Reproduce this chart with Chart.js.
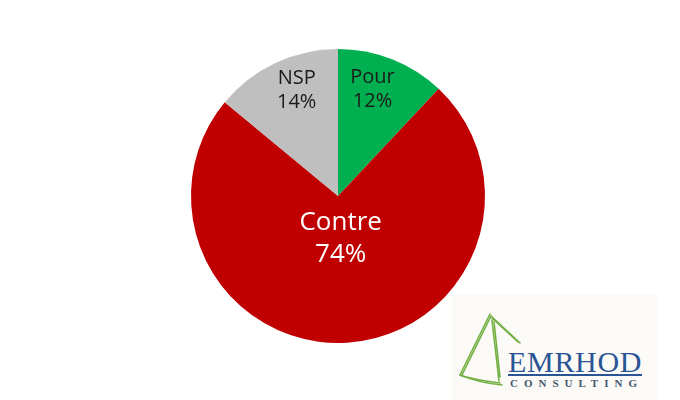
<!DOCTYPE html>
<html>
<head>
<meta charset="utf-8">
<script src="https://cdn.jsdelivr.net/npm/chart.js@4"></script>
<style>
    html, body { margin: 0; padding: 0; background: #ffffff; }
    #wrap { position: relative; width: 680px; height: 400px; }
    #logo { position: absolute; left: 452px; top: 295px; width: 205px; height: 105px; background: #fbfaf7; }
    #logo svg { position: absolute; left: 0; top: 0; }
    #logo .name { position: absolute; left: 56px; top: 52px; font-family: "Liberation Serif", "DejaVu Serif", serif; font-size: 30px; color: #2a5595; letter-spacing: 0.7px; line-height: 30px; white-space: nowrap; }
    #logo .rule { position: absolute; left: 56px; top: 79px; width: 134px; height: 2px; background: #2a5595; }
    #logo .sub { position: absolute; left: 58px; top: 83px; font-family: "Liberation Serif", "DejaVu Serif", serif; font-weight: bold; font-size: 11px; color: #46566e; letter-spacing: 6px; line-height: 11px; white-space: nowrap; }
</style>
</head>
<body>
<div id="wrap">
    <canvas id="pie" width="680" height="400"></canvas>
    <div id="logo">
        <svg width="205" height="105">
            <g fill="none" stroke="#74b043" stroke-width="1.6" stroke-linecap="round">
                <path d="M38 19 L8 80"/>
                <path d="M39 21 L10 80"/>
                <path d="M39 21 L68 48"/>
                <path d="M40 23 L66 47"/>
                <path d="M40 25 L47 86"/>
                <path d="M42 27 L48 82"/>
                <path d="M8 80 Q28 88 50 90"/>
                <path d="M10 81 Q30 86 48 88"/>
            </g>
        </svg>
        <div class="name">EMRHOD</div>
        <div class="rule"></div>
        <div class="sub">CONSULTING</div>
    </div>
</div>
<script>
    // Values
    const labels = ['Pour', 'Contre', 'NSP'];
    const values = [12, 74, 14];
    const colors = ['#00b050', '#c00000', '#bfbfbf'];
    const labelColors = ['#1a1a1a', '#ffffff', '#1a1a1a'];
    const labelSizes = [20, 26, 20];
    const labelRadius = [0.76, 0.29, 0.77];
    const labelTurn = [-3.6, 0, 3.8]; // degrees, nudges label toward the vertical

    // Draw "name / value%" inside each slice
    const sliceLabels = {
        id: 'sliceLabels',
        afterDatasetsDraw(chart) {
            const ctx = chart.ctx;
            const meta = chart.getDatasetMeta(0);
            meta.data.forEach(function (arc, i) {
                const p = arc.getProps(['x', 'y', 'startAngle', 'endAngle', 'outerRadius'], true);
                const mid = (p.startAngle + p.endAngle) / 2 + labelTurn[i] * Math.PI / 180;
                const r = p.outerRadius * labelRadius[i];
                const x = p.x + Math.cos(mid) * r;
                const y = p.y + Math.sin(mid) * r;
                ctx.save();
                ctx.fillStyle = labelColors[i];
                ctx.font = labelSizes[i] + 'px "Open Sans", "DejaVu Sans", sans-serif';
                ctx.textAlign = 'center';
                ctx.textBaseline = 'middle';
                const lh = labelSizes[i] * 1.2;
                ctx.fillText(labels[i], x, y - lh / 2);
                ctx.fillText(values[i] + '%', x, y + lh / 2);
                ctx.restore();
            });
        }
    };

    new Chart(document.getElementById('pie'), {
        type: 'pie',
        data: {
            labels: labels,
            datasets: [{
                data: values,
                backgroundColor: colors,
                borderWidth: 0
            }]
        },
        options: {
            responsive: false,
            animation: false,
            layout: {
                padding: { left: 191, right: 195, top: 49, bottom: 57 }
            },
            plugins: {
                legend: { display: false },
                tooltip: { enabled: false }
            }
        },
        plugins: [sliceLabels]
    });
</script>
</body>
</html>
